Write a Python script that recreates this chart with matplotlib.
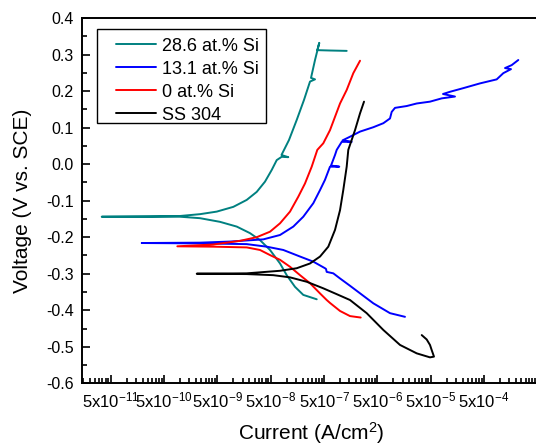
import numpy as np
import matplotlib
matplotlib.use("Agg")
import matplotlib.pyplot as plt
from matplotlib.ticker import FixedLocator, FuncFormatter, MultipleLocator, NullFormatter
from matplotlib.patches import Rectangle

plt.rcParams['font.family'] = ['Liberation Sans', 'DejaVu Sans']
plt.rcParams['mathtext.fontset'] = 'custom'
plt.rcParams['mathtext.rm'] = 'Liberation Sans'
plt.rcParams['mathtext.it'] = 'Liberation Sans:italic'
plt.rcParams['mathtext.bf'] = 'Liberation Sans:bold'
plt.rcParams['axes.unicode_minus'] = False

# ---------------- data (log10 of current density in A/cm2, potential in V vs SCE)
series_names = ["28.6 at.% Si", "13.1 at.% Si", "0 at.% Si", "SS 304"]
series_colors = ["#008080", "#0000FF", "#FF0000", "#000000"]

teal_log_i = [-6.438, -6.690, -6.845, -7.001, -7.126, -7.314, -7.502, -7.689, -7.938, -8.252,
              -8.627, -9.002, -9.564, -10.470,
              -9.564, -9.002, -8.627, -8.313, -8.002, -7.751, -7.563, -7.408, -7.282, -7.188,
              -7.095, -6.971, -7.099,
              -6.958, -6.813, -6.676, -6.564, -6.470, -6.545, -6.470, -6.390,
              -6.427, -6.189, -5.876]
teal_v = [-0.370, -0.358, -0.336, -0.304, -0.272, -0.235, -0.208, -0.189, -0.171, -0.158,
          -0.148, -0.144, -0.144, -0.144,
          -0.143, -0.142, -0.137, -0.130, -0.117, -0.098, -0.076, -0.048, -0.016, 0.011,
          0.020, 0.019, 0.025,
          0.066, 0.121, 0.176, 0.226, 0.232, 0.236, 0.285, 0.332,
          0.312, 0.311, 0.310]

blue_log_i = [-4.783, -5.064, -5.377, -5.814, -6.001, -6.127, -6.251, -6.264, -6.283, -6.502,
              -6.751, -7.065, -7.376, -7.751, -8.627, -9.720,
              -8.627, -8.064, -7.440, -7.126, -6.877, -6.690, -6.502, -6.376, -6.283, -6.189,
              -6.015, -6.170,
              -6.095, -6.063, -5.969, -5.782, -5.954, -5.814, -5.626, -5.377, -5.189,
              -5.064, -5.032, -4.970, -4.751, -4.563, -4.314, -4.094, -3.845, -4.070,
              -3.939, -3.689, -3.376, -3.063, -2.939, -2.795, -2.907, -2.782, -2.658]
blue_v = [-0.418, -0.408, -0.381, -0.333, -0.313, -0.299, -0.295, -0.287, -0.285, -0.267,
          -0.253, -0.235, -0.226, -0.219, -0.217, -0.216,
          -0.215, -0.212, -0.206, -0.194, -0.171, -0.144, -0.107, -0.071, -0.043, -0.007,
          -0.007, -0.004,
          0.025, 0.039, 0.061, 0.061, 0.065, 0.075, 0.089, 0.101, 0.112,
          0.125, 0.143, 0.154, 0.159, 0.166, 0.171, 0.180, 0.185, 0.192,
          0.198, 0.208, 0.221, 0.232, 0.249, 0.260, 0.263, 0.271, 0.285]

red_log_i = [-5.613, -5.814, -6.001, -6.189, -6.251, -6.376, -6.564, -6.751, -6.939, -7.126,
             -7.314, -7.502, -7.751, -8.377, -9.052,
             -8.377, -7.876, -7.563, -7.314, -7.126, -6.939, -6.783, -6.658, -6.532, -6.427,
             -6.315, -6.189, -6.001, -5.876, -5.752, -5.626]
red_v = [-0.420, -0.416, -0.402, -0.380, -0.372, -0.354, -0.326, -0.304, -0.281, -0.262,
         -0.249, -0.235, -0.228, -0.226, -0.225,
         -0.220, -0.210, -0.200, -0.185, -0.162, -0.130, -0.089, -0.053, -0.007, 0.039,
         0.057, 0.093, 0.166, 0.203, 0.249, 0.283]

black_log_i = [-4.469, -4.376, -4.314, -4.282, -4.239, -4.314, -4.563, -4.876, -5.189, -5.501,
               -5.814, -6.063, -6.315, -6.626, -6.939, -7.252, -7.751, -8.688,
               -7.751, -7.126, -6.813, -6.564, -6.376, -6.221, -6.095, -6.001, -5.940,
               -5.876, -5.846, -5.720, -5.626, -5.551]
black_v = [-0.468, -0.480, -0.495, -0.509, -0.527, -0.529, -0.518, -0.495, -0.454, -0.408,
           -0.372, -0.356, -0.340, -0.322, -0.310, -0.304, -0.301, -0.300,
           -0.299, -0.292, -0.285, -0.272, -0.253, -0.226, -0.180, -0.126, -0.071,
           -0.007, 0.039, 0.093, 0.139, 0.171]

x_major_ticks = [5e-11, 5e-10, 5e-9, 5e-8, 5e-7, 5e-6, 5e-5, 5e-4]
x_tick_labels = ["5x10$^{-11}$", "5x10$^{-10}$", "5x10$^{-9}$", "5x10$^{-8}$",
                 "5x10$^{-7}$", "5x10$^{-6}$", "5x10$^{-5}$", "5x10$^{-4}$"]
y_limits = (-0.6, 0.4)
x_limits = (10 ** -10.834, 10 ** -2.251)

# ---------------- figure
fig = plt.figure(figsize=(5.36, 4.46), dpi=100)
ax = fig.add_axes([82.3 / 536, 1 - 383.3 / 446, (540 - 82.3) / 536, (383.3 - 18) / 446])

all_x = [teal_log_i, blue_log_i, red_log_i, black_log_i]
all_y = [teal_v, blue_v, red_v, black_v]
for lx, vy, name, col in zip(all_x, all_y, series_names, series_colors):
    ax.plot(10 ** np.array(lx), vy, color=col, lw=1.4, label=name,
            solid_joinstyle='round', solid_capstyle='round')

ax.set_xscale('log')
ax.set_xlim(*x_limits)
ax.set_ylim(*y_limits)

ax.xaxis.set_major_locator(FixedLocator(x_major_ticks))
ax.set_xticklabels(x_tick_labels)
minor = []
for base in [5e-12] + x_major_ticks:
    for k in range(2, 10):
        minor.append(base * k)
ax.xaxis.set_minor_locator(FixedLocator(minor))
ax.xaxis.set_minor_formatter(NullFormatter())

ax.yaxis.set_major_locator(MultipleLocator(0.1))
ax.yaxis.set_minor_locator(MultipleLocator(0.05))
ax.yaxis.set_major_formatter(FuncFormatter(lambda v, p: f"{np.round(v, 1) + 0.0:.1f}"))

ax.tick_params(which='both', direction='in', top=False, right=False, width=1.2)
ax.tick_params(which='major', length=6, labelsize=11.5)
ax.tick_params(which='minor', length=3.5)
ax.tick_params(axis='x', which='major', pad=5, labelsize=12)
ax.tick_params(axis='y', which='major', pad=6)

for s in ax.spines.values():
    s.set_linewidth(1.4)

ax.set_xlabel("Current (A/cm$^2$)", fontsize=15, labelpad=7)
ax.set_ylabel("Voltage (V vs. SCE)", fontsize=15, labelpad=10)

# legend box (Origin style, drawn separately) and entries
ax.add_patch(Rectangle((0.0321, 0.7134), 0.3692, 0.2557, transform=ax.transAxes,
                       fill=False, edgecolor='black', lw=1.0, zorder=5))
leg = ax.legend(loc='upper left', bbox_to_anchor=(0.0736, 0.946), fontsize=13,
                frameon=False, borderaxespad=0, borderpad=0,
                handlelength=2.2, handletextpad=0.35, labelspacing=0.33)

fig.savefig("out.png", dpi=100)
